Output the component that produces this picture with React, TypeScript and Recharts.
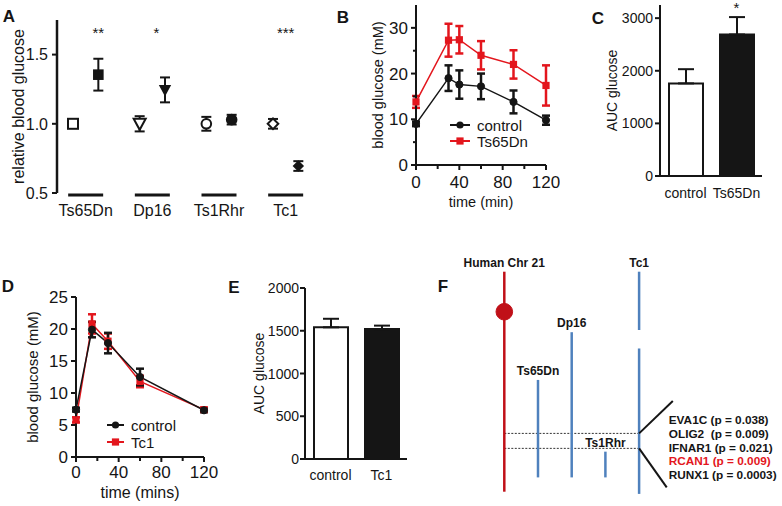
import React from 'react'
import {
  ScatterChart,
  Scatter,
  LineChart,
  Line,
  BarChart,
  Bar,
  ComposedChart,
  XAxis,
  YAxis,
  ErrorBar,
  ReferenceDot,
  ReferenceLine,
  Legend,
  Cell,
} from 'recharts'

const FONT = '"Liberation Sans", Arial, Helvetica, sans-serif'
const INK = '#151515'
const RED = '#e3161d'
const CHR_RED = '#c01018'
const BLUE = '#4f81bd'

// A: fasting glucose relative to littermate controls
const A_GROUPS = ['Ts65Dn', 'Dp16', 'Ts1Rhr', 'Tc1']
const A_SHAPES = ['square', 'triangle', 'circle', 'diamond']
const A_CONTROL = [1.0, 1.0, 1.0, 1.0]
const A_CONTROL_ERR = [0.02, 0.055, 0.05, 0.035]
const A_TRISOMIC = [1.355, 1.245, 1.03, 0.695]
const A_TRISOMIC_ERR = [0.115, 0.09, 0.035, 0.035]
const A_STARS = [
  { x: 0.19, text: '**' },
  { x: 1.06, text: '*' },
  { x: 3, text: '***' },
]

// B: GTT Ts65Dn
const B_TIME = [0, 30, 40, 60, 90, 120]
const B_CONTROL = [9.0, 19.0, 17.6, 17.2, 13.8, 9.8]
const B_CONTROL_ERR = [0.5, 2.8, 3.1, 2.8, 2.5, 1.0]
const B_TS65DN = [13.8, 27.3, 27.4, 24.0, 22.0, 17.4]
const B_TS65DN_ERR = [1.3, 3.6, 3.0, 3.1, 3.1, 4.4]

// C: AUC Ts65Dn
const C_GROUPS = ['control', 'Ts65Dn']
const C_AUC = [1760, 2690]
const C_ERR = [270, 330]

// D: GTT Tc1
const D_TIME = [0, 15, 30, 60, 120]
const D_CONTROL = [7.4, 19.9, 17.8, 12.5, 7.3]
const D_CONTROL_ERR = [0.3, 1.2, 1.6, 1.3, 0.3]
const D_TC1 = [5.8, 20.8, 18.1, 11.8, 7.4]
const D_TC1_ERR = [0.4, 1.5, 1.2, 0.9, 0.3]

// E: AUC Tc1
const E_GROUPS = ['control', 'Tc1']
const E_AUC = [1540, 1520]
const E_ERR = [100, 40]

// F: mouse models mapped on human chr21 (0 = top, 100 = bottom of drawing)
const F_TRACKS = ['Human Chr 21', 'Ts65Dn', 'Dp16', 'Ts1Rhr', 'Tc1']
const F_SEGMENTS = [
  { track: 0, from: 0, to: 100 },
  { track: 1, from: 49.2, to: 93.5 },
  { track: 2, from: 27.5, to: 93.5 },
  { track: 3, from: 81.8, to: 93.5 },
  { track: 4, from: 0, to: 26.5 },
  { track: 4, from: 34.9, to: 101 },
]
const F_CENTROMERE = 18.2
const F_REGION = [73.5, 80.3]
const F_GENES = ['EVA1C', 'OLIG2 ', 'IFNAR1', 'RCAN1', 'RUNX1']
const F_PVALUES = ['0.038', '0.009', '0.021', '0.009', '0.0003']
const F_HIGHLIGHT = 'RCAN1'

const aPoints = A_GROUPS.flatMap((g, i) => [
  { x: i - 0.19, y: A_CONTROL[i], err: A_CONTROL_ERR[i], shape: A_SHAPES[i], filled: false },
  { x: i + 0.19, y: A_TRISOMIC[i], err: A_TRISOMIC_ERR[i], shape: A_SHAPES[i], filled: true },
])

const bData = B_TIME.map((t, i) => ({
  t,
  control: B_CONTROL[i],
  controlErr: B_CONTROL_ERR[i],
  ts: B_TS65DN[i],
  tsErr: B_TS65DN_ERR[i],
}))

const dData = D_TIME.map((t, i) => ({
  t,
  control: D_CONTROL[i],
  controlErr: D_CONTROL_ERR[i],
  tc1: D_TC1[i],
  tc1Err: D_TC1_ERR[i],
}))

const cData = C_GROUPS.map((g, i) => ({ g, auc: C_AUC[i], err: [0, C_ERR[i]] }))
const eData = E_GROUPS.map((g, i) => ({ g, auc: E_AUC[i], err: [0, E_ERR[i]] }))

const fTops = F_TRACKS.map((name, i) => ({
  name,
  track: i,
  top: Math.min(...F_SEGMENTS.filter((s) => s.track === i).map((s) => s.from)),
}))

const fGenes = F_GENES.map((g, i) => ({
  x: 4.88,
  y: 67.1 + i * 6.35,
  text: `${g} (p = ${F_PVALUES[i]})`,
  hot: g.trim() === F_HIGHLIGHT,
}))

type TickOpts = {
  size: number
  len: number
  minorLen?: number
  gap: number
  labelEvery?: number
  fmt?: (v: any) => string
}

const bottomTick = (o: TickOpts) => (props: any) => {
  const { x, y, payload } = props
  const v = payload.value
  const major = o.labelEvery ? v % o.labelEvery === 0 : true
  const len = major ? o.len : o.minorLen ?? o.len
  return (
    <g>
      {len > 0 && <line x1={x} x2={x} y1={y} y2={y + len} stroke={INK} strokeWidth={2} />}
      {major && (
        <text x={x} y={y + o.gap} textAnchor="middle" fontSize={o.size} fill={INK} fontFamily={FONT}>
          {o.fmt ? o.fmt(v) : v}
        </text>
      )}
    </g>
  )
}

const leftTick = (o: TickOpts) => (props: any) => {
  const { x, y, payload } = props
  const v = payload.value
  const major = o.labelEvery ? v % o.labelEvery === 0 : true
  const len = major ? o.len : o.minorLen ?? o.len
  return (
    <g>
      <line x1={x - len} x2={x} y1={y} y2={y} stroke={INK} strokeWidth={2} />
      {major && (
        <text x={x - o.gap} y={y} dy="0.36em" textAnchor="end" fontSize={o.size} fill={INK} fontFamily={FONT}>
          {o.fmt ? o.fmt(v) : v}
        </text>
      )}
    </g>
  )
}

const groupTick = (props: any) => {
  const { x, y, payload } = props
  return (
    <g>
      <line x1={x - 17.5} x2={x + 17.5} y1={y + 2} y2={y + 2} stroke={INK} strokeWidth={3} />
      <text x={x} y={y + 22.5} textAnchor="middle" fontSize={16} fill={INK} fontFamily={FONT}>
        {A_GROUPS[payload.value]}
      </text>
    </g>
  )
}

const AMarker = (props: any) => {
  const { cx, cy, payload } = props
  const common = { fill: payload.filled ? INK : '#fff', stroke: INK, strokeWidth: 2 }
  if (payload.shape === 'square') {
    const s = payload.filled ? 4.3 : 5
    return <rect x={cx - s} y={cy - s} width={2 * s} height={2 * s} {...common} />
  }
  if (payload.shape === 'triangle') {
    const w = payload.filled ? 4.5 : 6
    return <polygon points={`${cx - w},${cy - w * 0.85} ${cx + w},${cy - w * 0.85} ${cx},${cy + w}`} {...common} />
  }
  if (payload.shape === 'circle') {
    return <circle cx={cx} cy={cy} r={4.8} {...common} />
  }
  const d = payload.filled ? 4.3 : 5.3
  return <polygon points={`${cx},${cy - d} ${cx + d},${cy} ${cx},${cy + d} ${cx - d},${cy}`} {...common} />
}

const dotCircle = (color: string) => (props: any) => (
  <circle key={`c-${props.index}`} cx={props.cx} cy={props.cy} r={3.6} fill={color} stroke={color} />
)
const dotSquare = (color: string) => (props: any) => (
  <rect key={`s-${props.index}`} x={props.cx - 3.6} y={props.cy - 3.6} width={7.2} height={7.2} fill={color} />
)

const SeriesLegend = (props: any) => {
  const { payload, fontSize, lineLen, rowH } = props
  const items = [...(payload || [])].reverse()
  return (
    <div style={{ fontFamily: FONT, fontSize, color: INK }}>
      {items.map((it: any) => (
        <div key={it.value} style={{ display: 'flex', alignItems: 'center', height: rowH }}>
          <svg width={lineLen} height={10} style={{ marginRight: 7 }}>
            <line x1={0} x2={lineLen} y1={5} y2={5} stroke={it.color} strokeWidth={2} />
            {it.color === INK ? (
              <circle cx={lineLen / 2} cy={5} r={3.6} fill={it.color} />
            ) : (
              <rect x={lineLen / 2 - 3.6} y={1.4} width={7.2} height={7.2} fill={it.color} />
            )}
          </svg>
          <span>{it.value}</span>
        </div>
      ))}
    </div>
  )
}

const axisStyle = { stroke: INK, strokeWidth: 2 }

const PanelLetter = ({ text, x, y }: { text: string; x: number; y: number }) => (
  <div
    style={{
      position: 'absolute',
      left: x,
      top: y,
      transform: 'translate(-50%, -50%)',
      fontFamily: FONT,
      fontWeight: 700,
      fontSize: 17,
      color: INK,
      lineHeight: 1,
    }}
  >
    {text}
  </div>
)

const Abs = ({ left, top, children }: { left: number; top: number; children: React.ReactNode }) => (
  <div style={{ position: 'absolute', left, top }}>{children}</div>
)

export default function App() {
  return (
    <div
      style={{
        position: 'absolute',
        left: 0,
        top: 0,
        width: 782,
        height: 506,
        background: '#fff',
        overflow: 'hidden',
        fontFamily: FONT,
      }}
    >
      {/* A */}
      <Abs left={0} top={0}>
        <ScatterChart width={330} height={235} margin={{ top: 20, right: 11, left: 0, bottom: 0 }}>
          <XAxis
            type="number"
            dataKey="x"
            domain={[-0.43, 3.5]}
            ticks={[0, 1, 2, 3]}
            interval={0}
            allowDataOverflow
            axisLine={false}
            tickLine={false}
            tickSize={0}
            tickMargin={0}
            height={42}
            tick={groupTick}
          />
          <YAxis
            type="number"
            dataKey="y"
            domain={[0.5, 1.75]}
            ticks={[0.5, 1.0, 1.5]}
            interval={0}
            allowDataOverflow
            width={57}
            axisLine={{ stroke: INK, strokeWidth: 2.5 }}
            tickLine={false}
            tickSize={0}
            tickMargin={0}
            tick={leftTick({ size: 16, len: 5, gap: 9, fmt: (v) => Number(v).toFixed(1) })}
            label={{
              value: 'relative blood glucose',
              angle: -90,
              position: 'insideLeft',
              offset: 18,
              style: { textAnchor: 'middle' },
              fontSize: 16,
              fill: INK,
              fontFamily: FONT,
            }}
          />
          <Scatter data={aPoints} shape={AMarker} isAnimationActive={false}>
            <ErrorBar dataKey="err" direction="y" width={5} strokeWidth={2} stroke={INK} />
          </Scatter>
          {A_STARS.map((s) => (
            <ReferenceDot
              key={s.text}
              x={s.x}
              y={1.66}
              r={0}
              fill="none"
              stroke="none"
              ifOverflow="visible"
              label={{ value: s.text, position: 'center', fontSize: 15, fill: INK, fontFamily: FONT }}
            />
          ))}
        </ScatterChart>
      </Abs>

      {/* B */}
      <Abs left={330} top={0}>
        <LineChart width={230} height={230} data={bData} margin={{ top: 5, right: 14, left: 0, bottom: 0 }}>
          <XAxis
            dataKey="t"
            type="number"
            domain={[0, 120]}
            ticks={[0, 20, 40, 60, 80, 100, 120]}
            interval={0}
            height={65}
            axisLine={axisStyle}
            tickLine={false}
            tickSize={0}
            tickMargin={0}
            tick={bottomTick({ size: 17, len: 5, minorLen: 4, gap: 23, labelEvery: 40 })}
            label={{ value: 'time (min)', position: 'insideBottom', offset: 23, fontSize: 14.5, fill: INK, fontFamily: FONT }}
          />
          <YAxis
            type="number"
            domain={[0, 35]}
            ticks={[0, 5, 10, 15, 20, 25, 30]}
            interval={0}
            allowDataOverflow
            width={86}
            axisLine={axisStyle}
            tickLine={false}
            tickSize={0}
            tickMargin={0}
            tick={leftTick({ size: 17, len: 5, minorLen: 3, gap: 8, labelEvery: 10 })}
            label={{
              value: 'blood glucose (mM)',
              angle: -90,
              position: 'insideLeft',
              offset: 48,
              style: { textAnchor: 'middle' },
              fontSize: 14.5,
              fill: INK,
              fontFamily: FONT,
            }}
          />
          <Line dataKey="ts" name="Ts65Dn" stroke={RED} strokeWidth={1.5} dot={dotSquare(RED)} isAnimationActive={false}>
            <ErrorBar dataKey="tsErr" direction="y" width={4} strokeWidth={2.5} stroke={RED} />
          </Line>
          <Line dataKey="control" name="control" stroke={INK} strokeWidth={1.5} dot={dotCircle(INK)} isAnimationActive={false}>
            <ErrorBar dataKey="controlErr" direction="y" width={4} strokeWidth={2.5} stroke={INK} />
          </Line>
          <Legend
            layout="vertical"
            align="center"
            verticalAlign="middle"
            wrapperStyle={{ left: 120, top: 117, width: 'auto' }}
            content={(p: any) => <SeriesLegend {...p} fontSize={15} lineLen={20} rowH={16} />}
          />
        </LineChart>
      </Abs>

      {/* C */}
      <Abs left={560} top={0}>
        <BarChart width={222} height={230} data={cData} margin={{ top: 5, right: 20, left: 0, bottom: 0 }}>
          <XAxis
            dataKey="g"
            interval={0}
            height={54}
            axisLine={axisStyle}
            tickLine={false}
            tickSize={0}
            tickMargin={0}
            tick={bottomTick({ size: 14, len: 0, gap: 21.5 })}
          />
          <YAxis
            type="number"
            domain={[0, 3250]}
            ticks={[0, 1000, 2000, 3000]}
            interval={0}
            allowDataOverflow
            width={100}
            axisLine={axisStyle}
            tickLine={false}
            tickSize={0}
            tickMargin={0}
            tick={leftTick({ size: 14, len: 5, gap: 7 })}
            label={{
              value: 'AUC glucose',
              angle: -90,
              position: 'insideLeft',
              offset: 52.5,
              style: { textAnchor: 'middle' },
              fontSize: 14,
              fill: INK,
              fontFamily: FONT,
            }}
          />
          <Bar dataKey="auc" barSize={34} stroke={INK} strokeWidth={2} isAnimationActive={false}>
            {cData.map((d, i) => (
              <Cell key={d.g} fill={i === 0 ? '#fff' : INK} />
            ))}
            <ErrorBar dataKey="err" direction="y" width={8} strokeWidth={2} stroke={INK} />
          </Bar>
          <ReferenceDot
            x="Ts65Dn"
            y={3200}
            r={0}
            fill="none"
            stroke="none"
            ifOverflow="visible"
            label={{ value: '*', position: 'center', fontSize: 15, fill: INK, fontFamily: FONT }}
          />
        </BarChart>
      </Abs>

      {/* D */}
      <Abs left={0} top={270}>
        <LineChart width={240} height={236} data={dData} margin={{ top: 27, right: 36, left: 0, bottom: 0 }}>
          <XAxis
            dataKey="t"
            type="number"
            domain={[0, 120]}
            ticks={[0, 20, 40, 60, 80, 100, 120]}
            interval={0}
            height={49}
            axisLine={axisStyle}
            tickLine={false}
            tickSize={0}
            tickMargin={0}
            tick={bottomTick({ size: 17, len: 5, minorLen: 4, gap: 21, labelEvery: 40 })}
            label={{ value: 'time (mins)', position: 'insideBottom', offset: 8, fontSize: 16, fill: INK, fontFamily: FONT }}
          />
          <YAxis
            type="number"
            domain={[0, 25]}
            ticks={[0, 5, 10, 15, 20, 25]}
            interval={0}
            width={76}
            axisLine={axisStyle}
            tickLine={false}
            tickSize={0}
            tickMargin={0}
            tick={leftTick({ size: 17, len: 5, gap: 8 })}
            label={{
              value: 'blood glucose (mM)',
              angle: -90,
              position: 'insideLeft',
              offset: 33,
              style: { textAnchor: 'middle' },
              fontSize: 15,
              fill: INK,
              fontFamily: FONT,
            }}
          />
          <Line dataKey="tc1" name="Tc1" stroke={RED} strokeWidth={1.5} dot={dotSquare(RED)} isAnimationActive={false}>
            <ErrorBar dataKey="tc1Err" direction="y" width={4} strokeWidth={2.5} stroke={RED} />
          </Line>
          <Line dataKey="control" name="control" stroke={INK} strokeWidth={1.5} dot={dotCircle(INK)} isAnimationActive={false}>
            <ErrorBar dataKey="controlErr" direction="y" width={4} strokeWidth={2.5} stroke={INK} />
          </Line>
          <Legend
            layout="vertical"
            align="center"
            verticalAlign="middle"
            wrapperStyle={{ left: 107, top: 147, width: 'auto' }}
            content={(p: any) => <SeriesLegend {...p} fontSize={15} lineLen={17} rowH={16.7} />}
          />
        </LineChart>
      </Abs>

      {/* E */}
      <Abs left={240} top={270}>
        <BarChart width={190} height={236} data={eData} margin={{ top: 18, right: 23, left: 0, bottom: 0 }}>
          <XAxis
            dataKey="g"
            interval={0}
            height={47}
            axisLine={axisStyle}
            tickLine={false}
            tickSize={0}
            tickMargin={0}
            tick={bottomTick({ size: 14, len: 0, gap: 21 })}
          />
          <YAxis
            type="number"
            domain={[0, 2000]}
            ticks={[0, 500, 1000, 1500, 2000]}
            interval={0}
            width={65}
            axisLine={axisStyle}
            tickLine={false}
            tickSize={0}
            tickMargin={0}
            tick={leftTick({ size: 14, len: 5, gap: 6 })}
            label={{
              value: 'AUC glucose',
              angle: -90,
              position: 'insideLeft',
              offset: 19,
              style: { textAnchor: 'middle' },
              fontSize: 14,
              fill: INK,
              fontFamily: FONT,
            }}
          />
          <Bar dataKey="auc" barSize={34} stroke={INK} strokeWidth={2} isAnimationActive={false}>
            {eData.map((d, i) => (
              <Cell key={d.g} fill={i === 0 ? '#fff' : INK} />
            ))}
            <ErrorBar dataKey="err" direction="y" width={8} strokeWidth={2} stroke={INK} />
          </Bar>
        </BarChart>
      </Abs>

      {/* F */}
      <Abs left={440} top={250}>
        <ComposedChart width={342} height={256} data={fGenes} margin={{ top: 21.7, right: 8.1, left: 30.6, bottom: 14.3 }}>
          <XAxis type="number" dataKey="x" domain={[-1, 8]} hide />
          <YAxis type="number" dataKey="y" domain={[0, 100]} reversed hide />
          {F_REGION.map((y) => (
            <ReferenceLine
              key={`r-${y}`}
              segment={[{ x: 0, y }, { x: 4, y }]}
              stroke="#333"
              strokeWidth={1}
              strokeDasharray="2 1.5"
              ifOverflow="visible"
            />
          ))}
          {F_SEGMENTS.map((s, i) => (
            <ReferenceLine
              key={`s-${i}`}
              segment={[{ x: s.track, y: s.from }, { x: s.track, y: s.to }]}
              stroke={s.track === 0 ? CHR_RED : BLUE}
              strokeWidth={2.5}
              ifOverflow="visible"
            />
          ))}
          <ReferenceDot x={0} y={F_CENTROMERE} r={8.3} fill={CHR_RED} stroke={CHR_RED} ifOverflow="visible" />
          {fTops.map((t) => (
            <ReferenceDot
              key={t.name}
              x={t.track}
              y={t.top}
              r={0}
              fill="none"
              stroke="none"
              ifOverflow="visible"
              label={{
                value: t.name,
                position: 'top',
                offset: 5,
                fontSize: 12,
                fontWeight: 700,
                fill: INK,
                fontFamily: FONT,
              }}
            />
          ))}
          <ReferenceLine segment={[{ x: 4, y: F_REGION[0] }, { x: 5.0, y: 58.8 }]} stroke={INK} strokeWidth={2} ifOverflow="visible" />
          <ReferenceLine segment={[{ x: 4, y: F_REGION[1] }, { x: 4.82, y: 98.0 }]} stroke={INK} strokeWidth={2} ifOverflow="visible" />
          <Scatter
            dataKey="y"
            isAnimationActive={false}
            shape={(p: any) => (
              <text
                x={p.cx}
                y={p.cy}
                dy="0.36em"
                fontSize={11.8}
                fontWeight={700}
                fontFamily={FONT}
                fill={p.payload.hot ? RED : INK}
                style={{ whiteSpace: 'pre' }}
              >
                {p.payload.text}
              </text>
            )}
          />
        </ComposedChart>
      </Abs>

      <PanelLetter text="A" x={9} y={16} />
      <PanelLetter text="B" x={343} y={17} />
      <PanelLetter text="C" x={598} y={17.5} />
      <PanelLetter text="D" x={8} y={286} />
      <PanelLetter text="E" x={234} y={287} />
      <PanelLetter text="F" x={443} y={286} />
    </div>
  )
}
